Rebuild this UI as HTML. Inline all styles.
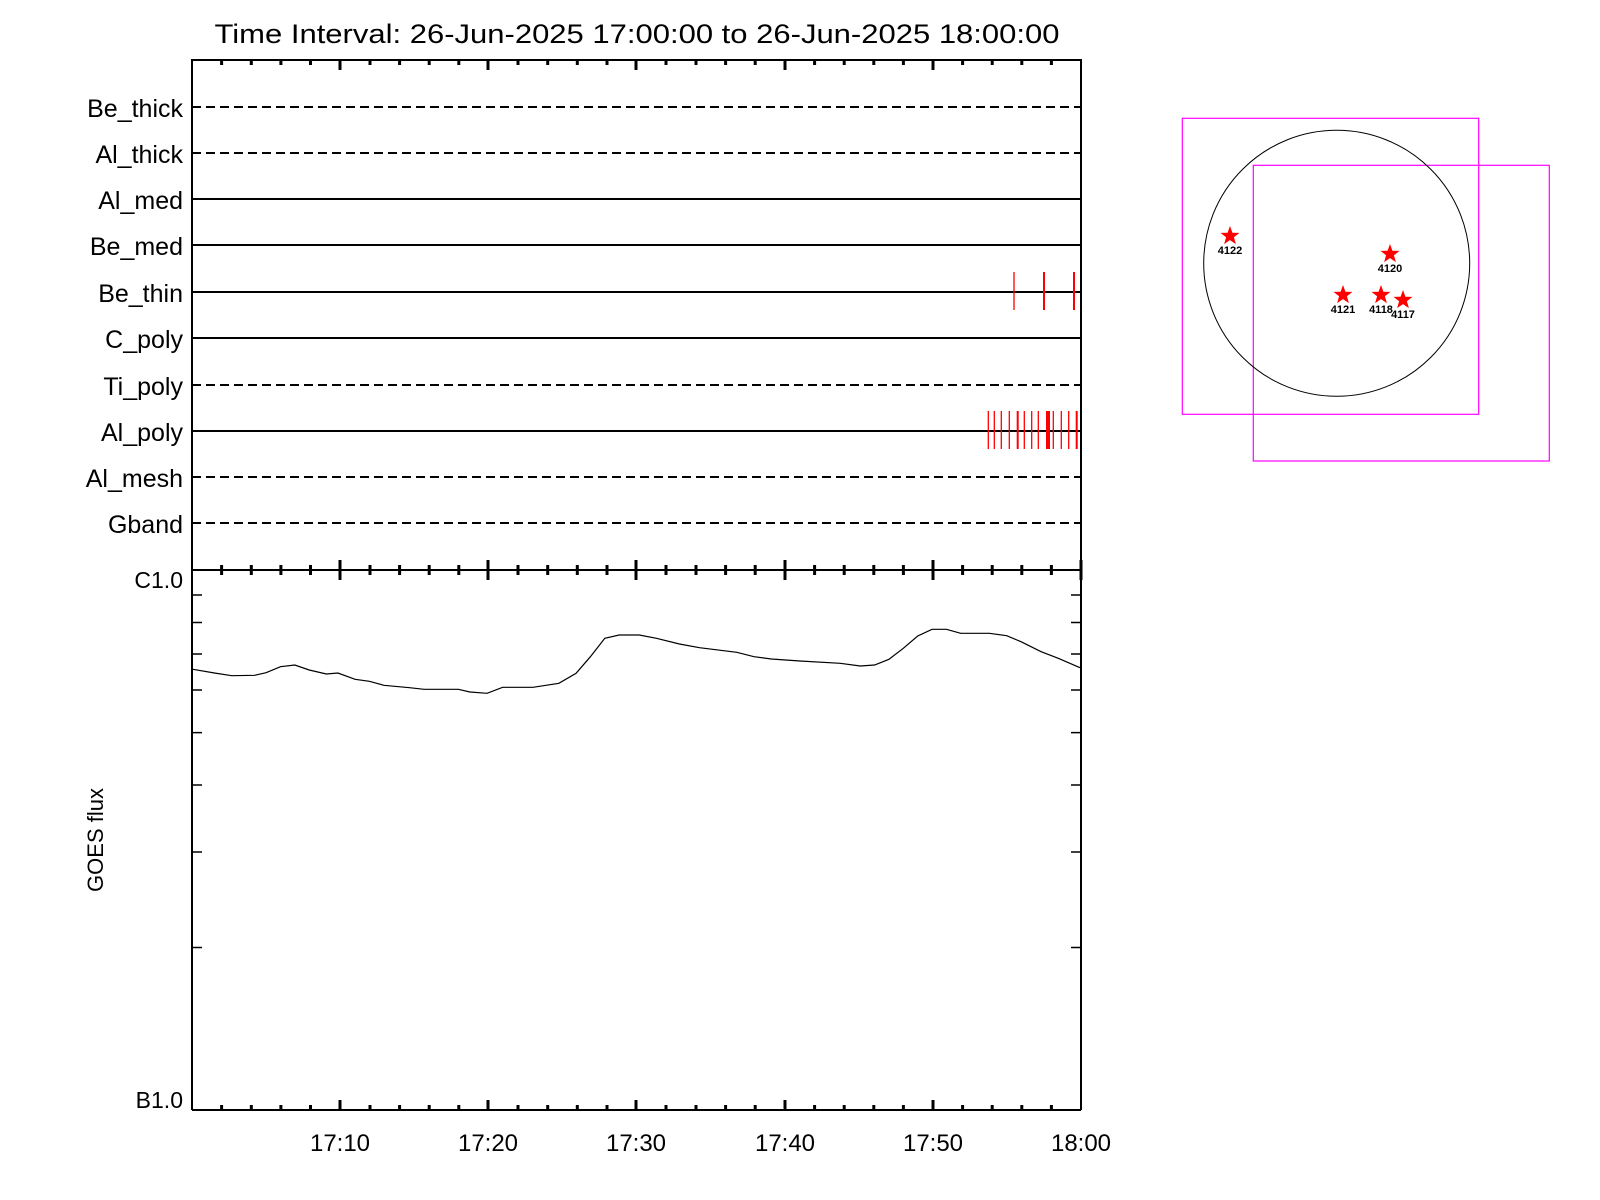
<!DOCTYPE html>
<html><head><meta charset="utf-8"><style>html,body{margin:0;padding:0;background:#fff}svg{display:block}</style></head><body>
<svg xmlns="http://www.w3.org/2000/svg" width="1600" height="1200" viewBox="0 0 1600 1200" font-family="Liberation Sans, Arial, sans-serif">
<rect width="1600" height="1200" fill="#fff"/>
<text x="637" y="43" font-size="27" text-anchor="middle" textLength="845" lengthAdjust="spacingAndGlyphs">Time Interval: 26-Jun-2025 17:00:00 to 26-Jun-2025 18:00:00</text>
<g stroke="#000" stroke-width="2" fill="none">
<polyline points="192,570 192,60 1081,60 1081,570"/>
<line x1="192" y1="570" x2="1081" y2="570"/>
<line x1="192" y1="570" x2="192" y2="1110"/>
<line x1="1081" y1="570" x2="1081" y2="1110"/>
<line x1="192" y1="1110" x2="1081" y2="1110"/>
</g>
<g stroke="#000" stroke-width="2">
<line x1="192" y1="107" x2="1081" y2="107" stroke-dasharray="9,5"/>
<line x1="192" y1="153" x2="1081" y2="153" stroke-dasharray="9,5"/>
<line x1="192" y1="199" x2="1081" y2="199"/>
<line x1="192" y1="245" x2="1081" y2="245"/>
<line x1="192" y1="292" x2="1081" y2="292"/>
<line x1="192" y1="338" x2="1081" y2="338"/>
<line x1="192" y1="385" x2="1081" y2="385" stroke-dasharray="9,5"/>
<line x1="192" y1="431" x2="1081" y2="431"/>
<line x1="192" y1="477" x2="1081" y2="477" stroke-dasharray="9,5"/>
<line x1="192" y1="523" x2="1081" y2="523" stroke-dasharray="9,5"/>
</g>
<g font-size="25" text-anchor="end">
<text x="183" y="117">Be_thick</text>
<text x="183" y="163">Al_thick</text>
<text x="183" y="209">Al_med</text>
<text x="183" y="255">Be_med</text>
<text x="183" y="302">Be_thin</text>
<text x="183" y="348">C_poly</text>
<text x="183" y="395">Ti_poly</text>
<text x="183" y="441">Al_poly</text>
<text x="183" y="487">Al_mesh</text>
<text x="183" y="533">Gband</text>
<text x="183" y="588" font-size="23">C1.0</text>
<text x="183" y="1108" font-size="23">B1.0</text>
</g>
<text transform="translate(103,840) rotate(-90)" font-size="22" text-anchor="middle">GOES flux</text>
<g font-size="24" text-anchor="middle">
<text x="340" y="1151">17:10</text>
<text x="488" y="1151">17:20</text>
<text x="636" y="1151">17:30</text>
<text x="785" y="1151">17:40</text>
<text x="933" y="1151">17:50</text>
<text x="1081" y="1151">18:00</text>
</g>
<g stroke="#f00">
<line x1="1014" y1="272" x2="1014" y2="310" stroke-width="1.3"/>
<line x1="1044" y1="272" x2="1044" y2="310" stroke-width="2"/>
<line x1="1074" y1="272" x2="1074" y2="310" stroke-width="2"/>
<g stroke-width="1.3">
<line x1="988.3" y1="411" x2="988.3" y2="449"/>
<line x1="994.3" y1="411" x2="994.3" y2="449"/>
<line x1="1001.3" y1="411" x2="1001.3" y2="449"/>
<line x1="1009.3" y1="411" x2="1009.3" y2="449"/>
<line x1="1017.7" y1="411" x2="1017.7" y2="449" stroke-width="2"/>
<line x1="1024.3" y1="411" x2="1024.3" y2="449"/>
<line x1="1031.7" y1="411" x2="1031.7" y2="449"/>
<line x1="1038.3" y1="411" x2="1038.3" y2="449"/>
<line x1="1047" y1="411" x2="1047" y2="449" stroke-width="2"/>
<line x1="1049" y1="411" x2="1049" y2="449" stroke-width="2"/>
<line x1="1053.3" y1="411" x2="1053.3" y2="449"/>
<line x1="1061.3" y1="411" x2="1061.3" y2="449"/>
<line x1="1068.7" y1="411" x2="1068.7" y2="449"/>
<line x1="1076.7" y1="411" x2="1076.7" y2="449" stroke-width="2"/>
</g>
</g>
<g stroke="#000" stroke-width="3">
<path d="M340,60v10M488,60v10M636,60v10M785,60v10M933,60v10M340,560v20M488,560v20M636,560v20M785,560v20M933,560v20M1081,560v20M340,1110v-10M488,1110v-10M636,1110v-10M785,1110v-10M933,1110v-10"/>
<path d="M221.6,60v5M251.3,60v5M280.9,60v5M310.5,60v5M370,60v5M399.6,60v5M429.2,60v5M458.8,60v5M518,60v5M547.7,60v5M577.3,60v5M607,60v5M666,60v5M696,60v5M725.6,60v5M755.2,60v5M814.6,60v5M844.2,60v5M873.8,60v5M903.4,60v5M962.6,60v5M992.2,60v5M1021.8,60v5M1051.4,60v5"/>
<path d="M221.6,565v10M251.3,565v10M280.9,565v10M310.5,565v10M370,565v10M399.6,565v10M429.2,565v10M458.8,565v10M518,565v10M547.7,565v10M577.3,565v10M607,565v10M666,565v10M696,565v10M725.6,565v10M755.2,565v10M814.6,565v10M844.2,565v10M873.8,565v10M903.4,565v10M962.6,565v10M992.2,565v10M1021.8,565v10M1051.4,565v10"/>
<path d="M221.6,1110v-5M251.3,1110v-5M280.9,1110v-5M310.5,1110v-5M370,1110v-5M399.6,1110v-5M429.2,1110v-5M458.8,1110v-5M518,1110v-5M547.7,1110v-5M577.3,1110v-5M607,1110v-5M666,1110v-5M696,1110v-5M725.6,1110v-5M755.2,1110v-5M814.6,1110v-5M844.2,1110v-5M873.8,1110v-5M903.4,1110v-5M962.6,1110v-5M992.2,1110v-5M1021.8,1110v-5M1051.4,1110v-5"/>
</g>
<g stroke="#000" stroke-width="1.5">
<path d="M192,595h10M192,622.5h10M192,654h10M192,690h10M192,732.6h10M192,785h10M192,852h10M192,947.5h10"/>
<path d="M1081,595h-10M1081,622.5h-10M1081,654h-10M1081,690h-10M1081,732.6h-10M1081,785h-10M1081,852h-10M1081,947.5h-10"/>
</g>
<polyline fill="none" stroke="#000" stroke-width="1.2" points="193,669.3 214.4,673 231.7,675.7 254.6,675.3 266.1,672.7 280.5,666.7 294.8,665 309.2,670 326.4,674 337.9,673 355.1,679.3 369.4,681.3 383.8,685.3 409.6,687.7 424,689.3 458.4,689.3 469.9,692 487.1,693.3 502.6,687.3 533,687.3 558.9,683.3 576.1,673.3 590.4,656.7 604.8,638.3 619.2,635 639.3,635 656.5,638.3 679.4,644 699.5,647.7 736.8,652.3 754,656.7 771.3,659 800,661 840.2,663.3 860.3,666 874.6,665 888.9,659.3 903.3,648.3 917.7,636 932,629.3 946.4,629.3 960.7,633.3 989.4,633.3 1006.7,635.7 1021,641.7 1041.1,651.7 1058.3,658.3 1080,667.7"/>
<rect x="1182.3" y="118.3" width="296.4" height="296" fill="none" stroke="#f0f" stroke-width="1.2"/>
<rect x="1253.3" y="165.3" width="296" height="295.7" fill="none" stroke="#f0f" stroke-width="1.2"/>
<circle cx="1336.7" cy="263.3" r="133" fill="none" stroke="#000" stroke-width="1"/>
<defs><polygon id="st" points="0,-10 2.4,-3.3 9.5,-3.1 3.9,1.3 5.9,8.1 0,4.1 -5.9,8.1 -3.9,1.3 -9.5,-3.1 -2.4,-3.3" fill="#f00"/></defs>
<use href="#st" x="1230" y="236"/>
<use href="#st" x="1390" y="254"/>
<use href="#st" x="1343" y="295"/>
<use href="#st" x="1381" y="295"/>
<use href="#st" x="1403" y="300"/>
<g font-size="11" font-weight="bold" text-anchor="middle">
<text x="1230" y="254">4122</text>
<text x="1390" y="272">4120</text>
<text x="1343" y="313">4121</text>
<text x="1381" y="313">4118</text>
<text x="1403" y="318">4117</text>
</g>
</svg>
</body></html>
